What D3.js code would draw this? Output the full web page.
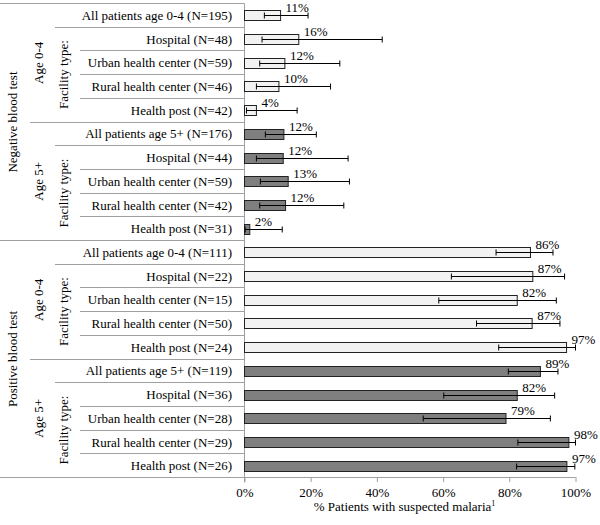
<!DOCTYPE html>
<html>
<head>
<meta charset="utf-8">
<script src="https://cdn.jsdelivr.net/npm/d3@7"></script>
<style>
  html, body { margin: 0; padding: 0; background: #fff; }
  svg { display: block; }
  svg text { font-family: 'Liberation Serif', 'DejaVu Serif', serif; }
</style>
</head>
<body>
<svg id="chart" width="600" height="525"></svg>
<script>
// ---- data ----
const testGroups = ["Negative blood test", "Positive blood test"];
const ageGroups = ["Age 0-4", "Age 5+"];
const facilityHeader = "Facility type:";
const rowLabels = [
  "All patients age 0-4 (N=195)", "Hospital (N=48)", "Urban health center (N=59)", "Rural health center (N=46)", "Health post (N=42)",
  "All patients age 5+ (N=176)", "Hospital (N=44)", "Urban health center (N=59)", "Rural health center (N=42)", "Health post (N=31)",
  "All patients age 0-4 (N=111)", "Hospital (N=22)", "Urban health center (N=15)", "Rural health center (N=50)", "Health post (N=24)",
  "All patients age 5+ (N=119)", "Hospital (N=36)", "Urban health center (N=28)", "Rural health center (N=29)", "Health post (N=26)"
];
const values = [10.9, 16.4, 12.2, 10.4, 3.6, 11.9, 11.7, 13.2, 12.4, 1.6,
                86.4, 87.1, 82.4, 86.9, 97.3, 89.4, 82.4, 79.0, 98.0, 97.4];
const ciLow  = [6.0, 5.3, 4.6, 3.6, 0.6, 6.3, 3.6, 4.8, 4.6, 0.2,
                76.0, 62.5, 58.7, 70.1, 76.8, 79.7, 60.2, 54.0, 82.6, 82.2];
const ciHigh = [19.2, 41.6, 28.8, 26.0, 15.9, 21.7, 31.3, 31.7, 30.0, 11.4,
                93.2, 96.7, 94.2, 95.3, 100.0, 94.7, 93.7, 92.4, 100.0, 99.8];
const xTicks = [0, 20, 40, 60, 80, 100];
const xTitle = "% Patients with suspected malaria";
const xTitleSup = "1";

// ---- layout ----
const FONT = "'Liberation Serif', 'DejaVu Serif', serif";
const svg = d3.select("#chart").attr("font-family", FONT);
const plotLeft = 244.5, plotRight = 575.5, plotTop = 3.5, plotBottom = 477.5;
const x = d3.scaleLinear().domain([0, 100]).range([plotLeft, plotRight]);
const y = d3.scaleBand().domain(d3.range(rowLabels.length)).range([plotTop, plotBottom]).padding(0);
const bw = y.bandwidth();
const barH = 10;
const fills = ["#f2f2f2", "#7f7f7f"];
const lineCol = "#a0a0a0";
const fmt = d3.format(".0f");
const ageOf = i => Math.floor(i / 5) % 2;

// ---- category label area lines ----
const g = svg.append("g");
function hline(yy, x0) {
  g.append("line").attr("x1", x0).attr("x2", plotLeft).attr("y1", yy).attr("y2", yy)
    .attr("stroke", lineCol).attr("stroke-width", 1);
}
for (let b = 0; b <= rowLabels.length; b++) {
  const yy = b === rowLabels.length ? plotBottom : y(b);
  let x0;
  if (b % 10 === 0) x0 = 0;
  else if (b % 5 === 0) x0 = 30;
  else if (b % 5 === 1) x0 = 55;
  else x0 = 80;
  hline(Math.floor(yy) + 0.5, x0);
}

// row labels
svg.append("g").selectAll("text").data(rowLabels).join("text")
  .attr("x", 232).attr("y", (d, i) => y(i) + bw / 2).attr("dy", "0.35em")
  .attr("font-family", FONT)
  .attr("text-anchor", "end").attr("font-size", 13).attr("fill", "#000").text(d => d);

// rotated group labels
function vtext(txt, cx, cy) {
  svg.append("text").attr("transform", `translate(${cx},${cy}) rotate(-90)`)
    .attr("font-family", FONT)
    .attr("text-anchor", "middle").attr("dy", "0.35em").attr("font-size", 13).attr("fill", "#000").text(txt);
}
testGroups.forEach((t, ti) => {
  vtext(t, 12.5, (y(ti * 10) + y(ti * 10 + 9) + bw) / 2);
  ageGroups.forEach((a, ai) => {
    const s = ti * 10 + ai * 5;
    vtext(a, 38, (y(s) + y(s + 4) + bw) / 2);
    vtext(facilityHeader, 63, (y(s + 1) + y(s + 4) + bw) / 2);
  });
});

// ---- axes ----
svg.append("line").attr("x1", plotLeft).attr("x2", plotLeft).attr("y1", plotTop).attr("y2", plotBottom + 5)
  .attr("stroke", lineCol);
const xAxis = d3.axisBottom(x).tickValues(xTicks).tickSize(5).tickFormat(d => d + "%");
const ax = svg.append("g").attr("transform", `translate(0,${plotBottom - 0.5})`).call(xAxis);
ax.attr("font-family", FONT).attr("font-size", 13);
ax.select(".domain").attr("stroke", lineCol).attr("d", `M${plotLeft},0.5H${plotRight}`);
ax.selectAll(".tick line").attr("stroke", lineCol);
ax.selectAll(".tick text").attr("font-family", FONT)
  .attr("font-size", 13).attr("fill", "#000").attr("y", 11).attr("dy", "0.71em");

const title = svg.append("text").attr("x", 404.5).attr("y", 511).attr("text-anchor", "middle")
  .attr("font-family", FONT)
  .attr("font-size", 13).attr("fill", "#000").text(xTitle);
title.append("tspan").attr("font-size", 8).attr("dy", -5).text(xTitleSup);

// ---- bars ----
const barY = i => Math.round(y(i) + (bw - barH) / 2) + 0.5;
svg.append("g").selectAll("rect").data(values).join("rect")
  .attr("x", x(0)).attr("y", (d, i) => barY(i))
  .attr("width", d => x(d) - x(0)).attr("height", barH)
  .attr("fill", (d, i) => fills[ageOf(i)]).attr("stroke", "#222").attr("stroke-width", 1);

// ---- error bars ----
const eg = svg.append("g").attr("stroke", "#000").attr("stroke-width", 1);
values.forEach((v, i) => {
  const cy = barY(i) + barH / 2;
  eg.append("line").attr("x1", x(ciLow[i])).attr("x2", x(ciHigh[i])).attr("y1", cy).attr("y2", cy);
  [ciLow[i], ciHigh[i]].forEach(c => {
    eg.append("line").attr("x1", x(c)).attr("x2", x(c)).attr("y1", cy - 3).attr("y2", cy + 3);
  });
});

// ---- value labels ----
svg.append("g").selectAll("text").data(values).join("text")
  .attr("x", d => x(d) + 5).attr("y", (d, i) => barY(i) + 1)
  .attr("font-family", FONT)
  .attr("font-size", 13).attr("fill", "#000").text(d => fmt(d) + "%");
</script>
</body>
</html>
